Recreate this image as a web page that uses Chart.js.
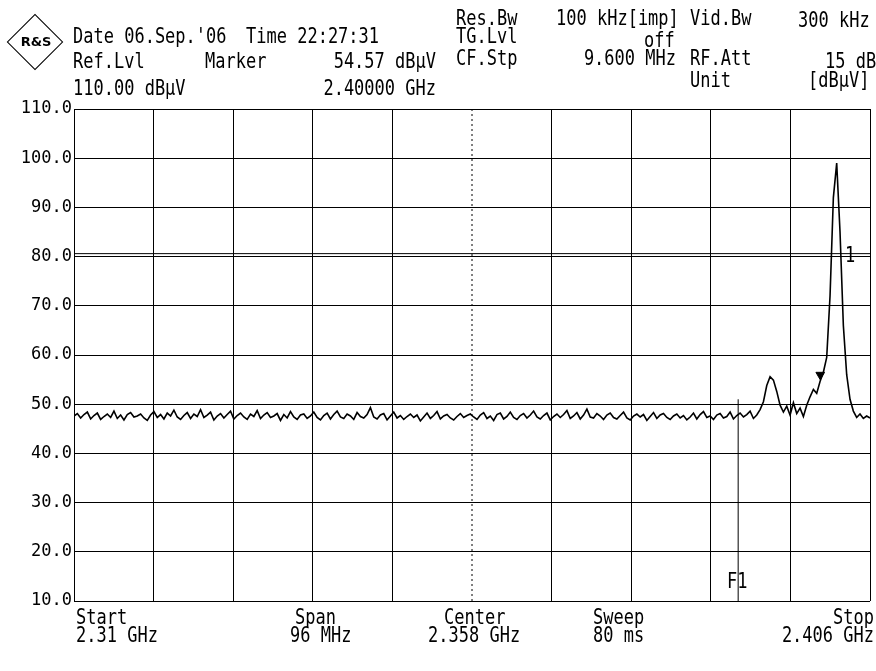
<!DOCTYPE html>
<html>
<head>
<meta charset="utf-8">
<script src="https://cdn.jsdelivr.net/npm/chart.js@4.4.1/dist/chart.umd.min.js"></script>
<style>
  body { margin: 0; background: #fff; }
  #wrap { position: relative; width: 876px; height: 671px; overflow: hidden; background: #fff; }
  #plot { position: absolute; left: 0; top: 0; }
  .t { position: absolute; font-family: "DejaVu Sans Mono", monospace; font-size: 17px; line-height: 17px;
       color: #000; white-space: pre; transform: scaleY(1.2); transform-origin: 0 0; }
  .r { text-align: right; }
  #logo { position: absolute; left: 15px; top: 22px; width: 38px; height: 38px; border: 1.5px solid #000; transform: rotate(45deg); }
  #logoTxt { position: absolute; left: 16px; top: 34px; width: 40px; text-align: center; font-family: "DejaVu Sans", sans-serif; font-size: 13px; font-weight: bold; }
</style>
</head>
<body>
<div id="wrap">
  <canvas id="plot" width="876" height="671"></canvas>

  <div id="logo"></div>
  <div id="logoTxt">R&amp;S</div>

  <!-- header, left block -->
  <div class="t" style="left:73px;top:26px">Date 06.Sep.'06</div>
  <div class="t" style="left:246px;top:26px">Time 22:27:31</div>
  <div class="t" style="left:73px;top:51px">Ref.Lvl</div>
  <div class="t" style="left:205px;top:51px">Marker</div>
  <div class="t r" style="left:300px;width:136px;top:51px">54.57 dBµV</div>
  <div class="t" style="left:73px;top:78px">110.00 dBµV</div>
  <div class="t r" style="left:300px;width:136px;top:78px">2.40000 GHz</div>

  <!-- header, right block -->
  <div class="t" style="left:456px;top:8px">Res.Bw</div>
  <div class="t" style="left:556px;top:8px">100 kHz[imp]</div>
  <div class="t" style="left:690px;top:8px">Vid.Bw</div>
  <div class="t" style="left:798px;top:10px">300 kHz</div>
  <div class="t" style="left:456px;top:26px">TG.Lvl</div>
  <div class="t" style="left:644px;top:30px">off</div>
  <div class="t" style="left:456px;top:48px">CF.Stp</div>
  <div class="t r" style="left:540px;width:136px;top:48px">9.600 MHz</div>
  <div class="t" style="left:690px;top:48px">RF.Att</div>
  <div class="t" style="left:825px;top:51px">15 dB</div>
  <div class="t" style="left:690px;top:70px">Unit</div>
  <div class="t" style="left:808px;top:70px">[dBµV]</div>

  <!-- footer -->
  <div class="t" style="left:76px;top:607px">Start</div>
  <div class="t" style="left:76px;top:625px">2.31 GHz</div>
  <div class="t" style="left:295px;top:607px">Span</div>
  <div class="t" style="left:290px;top:625px">96 MHz</div>
  <div class="t" style="left:444px;top:607px">Center</div>
  <div class="t" style="left:428px;top:625px">2.358 GHz</div>
  <div class="t" style="left:593px;top:607px">Sweep</div>
  <div class="t" style="left:593px;top:625px">80 ms</div>
  <div class="t r" style="left:760px;width:114px;top:607px">Stop</div>
  <div class="t r" style="left:760px;width:114px;top:625px">2.406 GHz</div>

  <div class="t" style="left:727px;top:571px">F1</div>
  <div class="t" style="left:845px;top:245px">1</div>
</div>

<script>
// sweep settings
const startMHz = 2310;
const stopMHz = 2406;
const centerMHz = 2358;
const divMHz = 9.6;
const refLevel = 110;
const bottomLevel = 10;

// trace levels in dBuV, one per sweep point
const levels = [
  47.6,48.1,47.2,47.9,48.4,47.0,47.7,48.2,46.9,47.5,48.0,47.3,48.6,47.1,47.8,46.8,47.9,48.3,47.4,47.6,
  48.0,47.2,46.7,47.8,48.5,47.3,47.9,47.0,48.2,47.6,48.8,47.4,46.9,47.7,48.3,47.1,48.0,47.5,48.9,47.3,
  47.8,48.4,46.8,47.6,48.1,47.2,47.9,48.6,47.0,47.7,48.2,47.4,46.9,48.0,47.5,48.7,47.1,47.8,48.3,47.3,
  47.6,48.1,46.7,47.9,47.2,48.5,47.4,46.9,47.8,48.0,47.1,47.6,48.4,47.3,46.8,47.7,48.2,47.0,47.9,48.6,
  47.4,47.1,48.0,47.6,46.9,48.3,47.5,47.2,47.9,49.3,47.4,47.0,47.8,48.1,46.8,47.6,48.4,47.2,47.7,46.9,
  47.5,48.0,47.3,47.8,46.6,47.4,48.2,47.1,47.7,48.5,47.0,47.6,47.9,47.2,46.8,47.5,48.1,47.3,47.7,48.0,
  47.4,46.9,47.8,48.3,47.1,47.6,46.7,47.9,48.2,47.0,47.5,48.4,47.3,46.9,47.7,48.1,47.2,47.8,48.6,47.4,
  47.0,47.7,48.2,46.8,47.5,48.0,47.3,47.9,48.7,47.1,47.6,48.3,47.0,47.8,49.0,47.4,47.2,48.1,47.6,46.9,
  47.8,48.2,47.3,47.0,47.7,48.4,47.2,46.8,47.6,48.0,47.4,47.9,46.7,47.5,48.3,47.1,47.8,48.1,47.3,46.9,
  47.6,48.0,47.2,47.7,46.8,47.4,48.2,47.0,47.9,48.5,47.3,47.6,46.9,47.8,48.1,47.2,47.5,48.4,47.0,47.7,
  48.2,47.4,47.9,48.6,47.1,47.8,48.9,50.5,53.8,55.6,54.9,52.6,49.8,48.4,49.6,47.8,50.3,48.1,49.2,47.5,
  49.8,51.5,53.0,52.2,54.6,56.5,59.5,72.0,92.0,99.0,85.0,66.0,56.0,51.0,48.6,47.3,48.0,47.1,47.6,47.2
];

// marker M1
const markerMHz = 2400.0;
const markerLevel = 54.57;
// display line and frequency line F1
const displayLine = 80.6;
const f1MHz = 2390.1;
const f1Top = 51;

const freqs = levels.map((_, i) => startMHz + i * (stopMHz - startMHz) / (levels.length - 1));
const gridFreqs = [];
for (let k = 0; k <= 10; k++) gridFreqs.push(+(startMHz + k * divMHz).toFixed(1));

const ctx = document.getElementById('plot').getContext('2d');
new Chart(ctx, {
  type: 'line',
  data: {
    datasets: [
      { data: freqs.map((f, i) => ({ x: f, y: levels[i] })), borderColor: '#000', borderWidth: 1.6, pointRadius: 0, tension: 0 },
      { data: [{ x: centerMHz, y: bottomLevel }, { x: centerMHz, y: refLevel }], borderColor: '#000', borderWidth: 1, borderDash: [2, 3], pointRadius: 0 },
      { data: [{ x: startMHz, y: displayLine }, { x: stopMHz, y: displayLine }], borderColor: '#000', borderWidth: 1, pointRadius: 0 },
      { data: [{ x: f1MHz, y: bottomLevel }, { x: f1MHz, y: f1Top }], borderColor: '#000', borderWidth: 1, pointRadius: 0 },
      { data: [{ x: markerMHz, y: markerLevel + 1.4 }], showLine: false, pointStyle: 'triangle', rotation: 180,
        pointRadius: 5, backgroundColor: '#000', borderColor: '#000' }
    ]
  },
  options: {
    responsive: false,
    animation: false,
    layout: { padding: { left: 0, right: 5, top: 109, bottom: 70 } },
    plugins: { legend: { display: false }, tooltip: { enabled: false } },
    scales: {
      x: {
        type: 'linear', min: startMHz, max: stopMHz,
        afterBuildTicks: s => { s.ticks = gridFreqs.map(v => ({ value: v })); },
        afterFit: s => { s.height = 0; },
        ticks: { display: false },
        grid: { color: c => (c.tick && c.tick.value === centerMHz) ? 'rgba(0,0,0,0)' : '#000', lineWidth: 1, drawTicks: false },
        border: { display: false }
      },
      y: {
        min: bottomLevel, max: refLevel,
        ticks: { stepSize: 10, color: '#000', padding: 2,
          font: { family: 'DejaVu Sans Mono', size: 17 },
          callback: v => v.toFixed(1) },
        afterFit: s => { s.width = 74; },
        grid: { color: '#000', lineWidth: 1, drawTicks: false },
        border: { display: false }
      }
    }
  }
});
</script>
</body>
</html>
